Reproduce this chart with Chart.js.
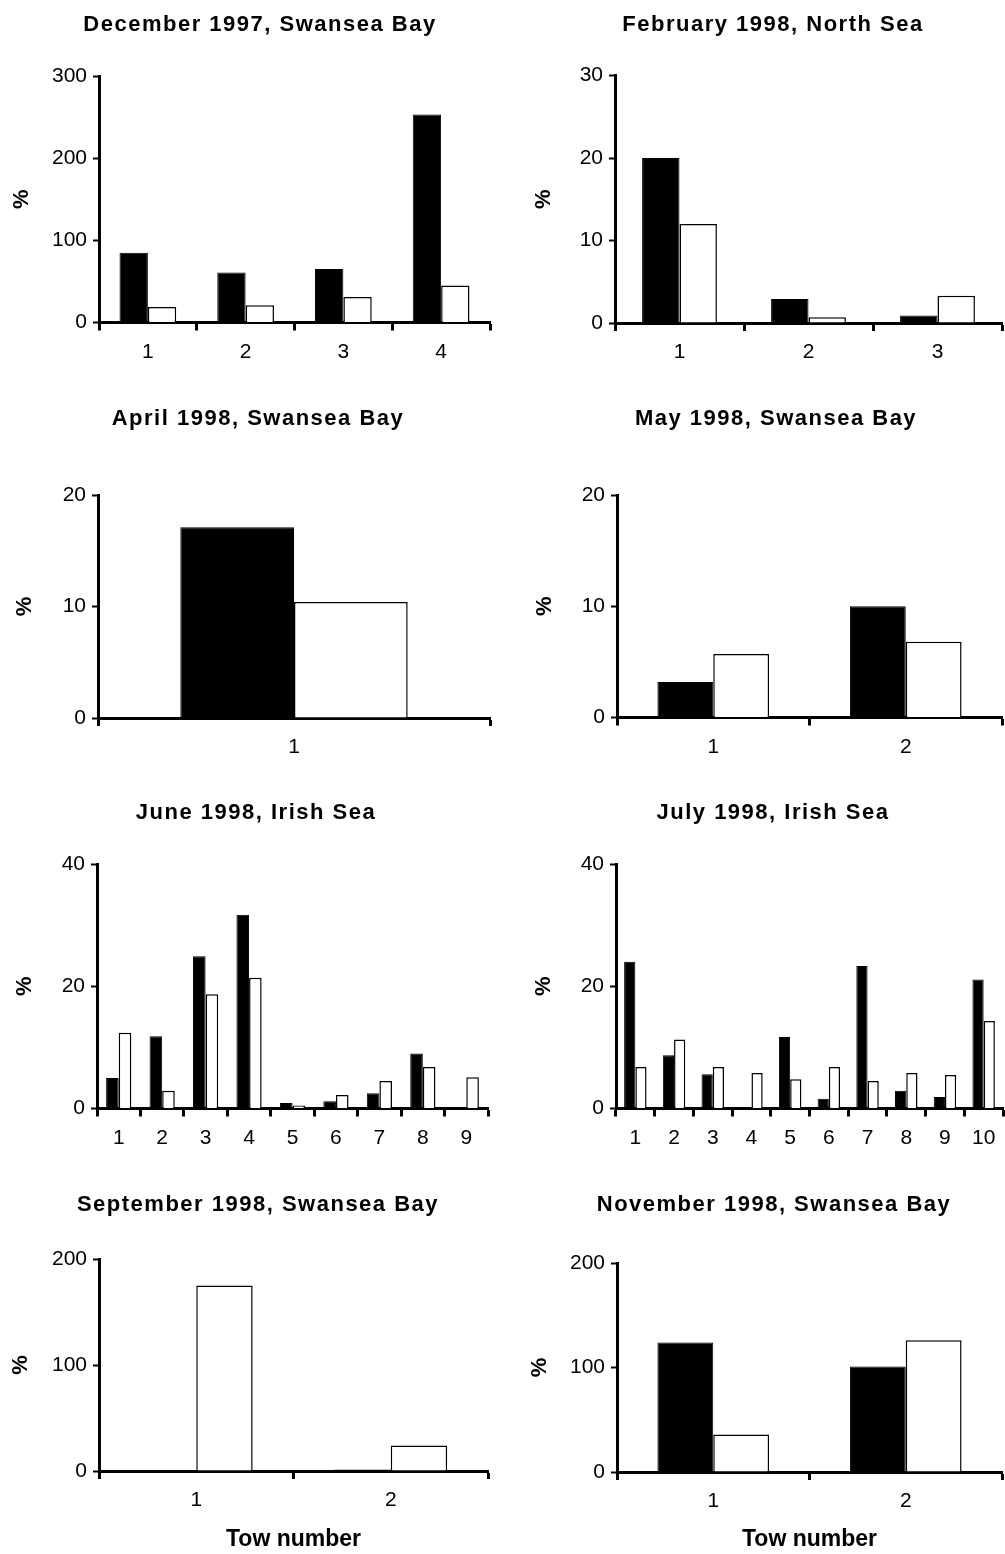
<!DOCTYPE html>
<html>
<head>
<meta charset="utf-8">
<title>Tow results 1997-1998</title>
<script src="https://cdn.jsdelivr.net/npm/chart.js@4.4.0/dist/chart.umd.min.js"></script>
<style>
  body { margin: 0; background: #fff; }
  #page { position: relative; width: 1005px; height: 1554px; }
  #page canvas { position: absolute; }
</style>
</head>
<body>
<div id="page"></div>
<script>
// values per tow: solid = black bars, open = white bars
var dec97Tows = ['1', '2', '3', '4'];
var dec97Solid = [85, 61, 65, 253];
var dec97Open = [19, 21, 31, 45];

var feb98Tows = ['1', '2', '3'];
var feb98Solid = [20, 2.9, 0.9];
var feb98Open = [12, 0.7, 3.3];

var apr98Tows = ['1'];
var apr98Solid = [17.1];
var apr98Open = [10.4];

var may98Tows = ['1', '2'];
var may98Solid = [3.2, 10];
var may98Open = [5.7, 6.8];

var jun98Tows = ['1', '2', '3', '4', '5', '6', '7', '8', '9'];
var jun98Solid = [5.0, 11.8, 24.9, 31.7, 0.9, 1.2, 2.5, 9.0, 0];
var jun98Open = [12.4, 2.9, 18.7, 21.4, 0.5, 2.2, 4.5, 6.8, 5.1];

var jul98Tows = ['1', '2', '3', '4', '5', '6', '7', '8', '9', '10'];
var jul98Solid = [24.0, 8.7, 5.6, 0, 11.7, 1.6, 23.3, 2.9, 1.9, 21.1];
var jul98Open = [6.8, 11.3, 6.8, 5.8, 4.8, 6.8, 4.5, 5.8, 5.5, 14.3];

var sep98Tows = ['1', '2'];
var sep98Solid = [1, 1.5];
var sep98Open = [175, 24];

var nov98Tows = ['1', '2'];
var nov98Solid = [124, 101];
var nov98Open = [36, 126];

// y axis ranges (max, step) for each panel
var yMax = [300, 30, 20, 20, 40, 40, 200, 200];
var yStep = [100, 10, 10, 10, 20, 20, 100, 100];

var panels = [
  { title: 'December 1997, Swansea Bay', tows: dec97Tows, solid: dec97Solid, open: dec97Open },
  { title: 'February 1998, North Sea', tows: feb98Tows, solid: feb98Solid, open: feb98Open },
  { title: 'April 1998, Swansea Bay', tows: apr98Tows, solid: apr98Solid, open: apr98Open },
  { title: 'May 1998, Swansea Bay', tows: may98Tows, solid: may98Solid, open: may98Open },
  { title: 'June 1998, Irish Sea', tows: jun98Tows, solid: jun98Solid, open: jun98Open },
  { title: 'July 1998, Irish Sea', tows: jul98Tows, solid: jul98Solid, open: jul98Open },
  { title: 'September 1998, Swansea Bay', tows: sep98Tows, solid: sep98Solid, open: sep98Open },
  { title: 'November 1998, Swansea Bay', tows: nov98Tows, solid: nov98Solid, open: nov98Open }
];

// page layout
var cols = [ { x: 0, w: 500 }, { x: 500, w: 505 } ];
var rows = [ { y: 0, h: 390 }, { y: 390, h: 395 }, { y: 785, h: 390 }, { y: 1175, h: 379 } ];
var frames = [
  { axisX: 99,  right: 490,  top: 76,   bottom: 322.5,  pctX: 22,  titleX: 260, titleY: 25 },
  { axisX: 615, right: 1002, top: 75.5, bottom: 323,    pctX: 544, titleX: 773, titleY: 25 },
  { axisX: 98,  right: 490,  top: 495,  bottom: 718,    pctX: 25,  titleX: 258, titleY: 419 },
  { axisX: 617, right: 1002, top: 495,  bottom: 717.5,  pctX: 545, titleX: 776, titleY: 419 },
  { axisX: 97,  right: 488,  top: 864,  bottom: 1108.5, pctX: 25,  titleX: 256, titleY: 813 },
  { axisX: 616, right: 1003, top: 864,  bottom: 1108.5, pctX: 544, titleX: 773, titleY: 813 },
  { axisX: 99,  right: 488,  top: 1259, bottom: 1471,   pctX: 21,  titleX: 258, titleY: 1205 },
  { axisX: 617, right: 1002, top: 1263, bottom: 1472,   pctX: 540, titleX: 774, titleY: 1205 }
];

var FONT = 'Arial, "Liberation Sans", sans-serif';

// panel heading, drawn a little wider-spaced than the axis text
var panelTitle = {
  id: 'panelTitle',
  afterDraw: function(chart, args, opts) {
    var ctx = chart.ctx;
    ctx.save();
    ctx.font = 'bold 22px ' + FONT;
    ctx.letterSpacing = '1.5px';
    ctx.fillStyle = '#000';
    ctx.textAlign = 'center';
    ctx.textBaseline = 'middle';
    ctx.fillText(opts.text, opts.x, opts.y);
    ctx.restore();
  }
};

var page = document.getElementById('page');

function makeChart(i) {
  var p = panels[i];
  var f = frames[i];
  var col = cols[i % 2];
  var row = rows[Math.floor(i / 2)];

  var canvas = document.createElement('canvas');
  canvas.width = col.w;
  canvas.height = row.h;
  canvas.style.left = col.x + 'px';
  canvas.style.top = row.y + 'px';
  page.appendChild(canvas);

  return new Chart(canvas, {
    type: 'bar',
    data: {
      labels: p.tows,
      datasets: [
        { data: p.solid, backgroundColor: '#000', borderColor: '#000', borderWidth: 1 },
        { data: p.open, backgroundColor: '#fff', borderColor: '#000', borderWidth: 1.5 }
      ]
    },
    options: {
      responsive: false,
      animation: false,
      datasets: { bar: { categoryPercentage: 0.58, barPercentage: 1 } },
      layout: {
        padding: { top: f.top - row.y, right: col.x + col.w - f.right, left: 0, bottom: 0 }
      },
      plugins: {
        legend: { display: false },
        tooltip: { enabled: false },
        panelTitle: { text: p.title, x: f.titleX - col.x, y: f.titleY - row.y }
      },
      scales: {
        x: {
          grid: { offset: true, drawOnChartArea: false, tickLength: 8, tickWidth: 3, tickColor: '#000' },
          border: { color: '#000', width: 3 },
          ticks: { color: '#000', padding: 9, maxRotation: 0, font: { family: FONT, size: 21 } },
          title: {
            display: i >= 6,
            text: 'Tow number',
            color: '#000',
            font: { family: FONT, size: 23, weight: 'bold' },
            padding: { top: 0, bottom: 1 }
          },
          afterFit: function(s) { s.height = row.y + row.h - f.bottom; }
        },
        y: {
          min: 0,
          max: yMax[i],
          grid: { drawOnChartArea: false, tickLength: 6, tickWidth: 2, tickColor: '#000' },
          border: { color: '#000', width: 3 },
          ticks: { stepSize: yStep[i], color: '#000', padding: 6, font: { family: FONT, size: 21 } },
          title: {
            display: true,
            text: '%',
            color: '#000',
            font: { family: FONT, size: 22, weight: 'bold' },
            padding: { top: f.pctX - col.x - 13.2, bottom: 0 }
          },
          afterFit: function(s) { s.width = f.axisX - col.x; }
        }
      }
    },
    plugins: [panelTitle]
  });
}

for (var i = 0; i < panels.length; i++) {
  makeChart(i);
}
</script>
</body>
</html>
